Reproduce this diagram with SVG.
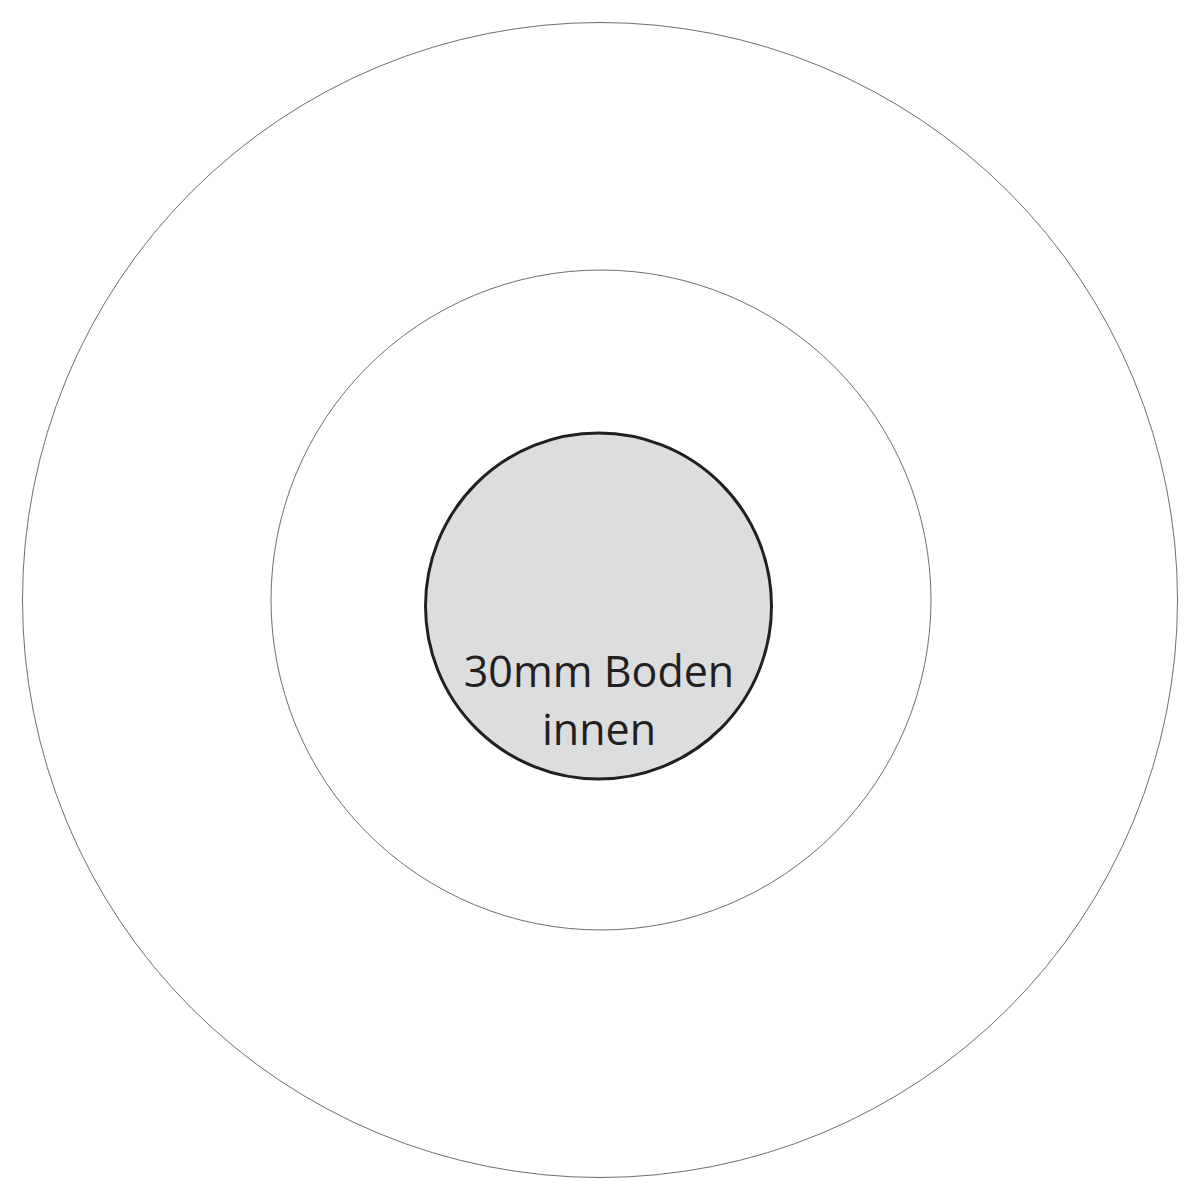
<svg xmlns="http://www.w3.org/2000/svg" width="1200" height="1188" viewBox="0 0 1200 1188">
<style>
.ring{fill:none;stroke:#6d6e71;stroke-width:1}
.core{fill:#dcdddf;stroke:#231f20;stroke-width:3}
.lbl{font-family:"Open Sans","Noto Sans","Liberation Sans",sans-serif;font-size:43px;fill:#231f20;text-anchor:middle}
</style>
<rect width="1200" height="1188" fill="#ffffff"/>
<g id="outer"><circle class="ring" cx="600" cy="600" r="577.5"/></g>
<g id="middle"><circle class="ring" cx="601" cy="600" r="330"/></g>
<g id="inner">
<circle class="core" cx="598.5" cy="606" r="173"/>
<text class="lbl" x="599" y="687">30mm Boden</text>
<text class="lbl" x="599" y="745">innen</text>
</g>
</svg>
